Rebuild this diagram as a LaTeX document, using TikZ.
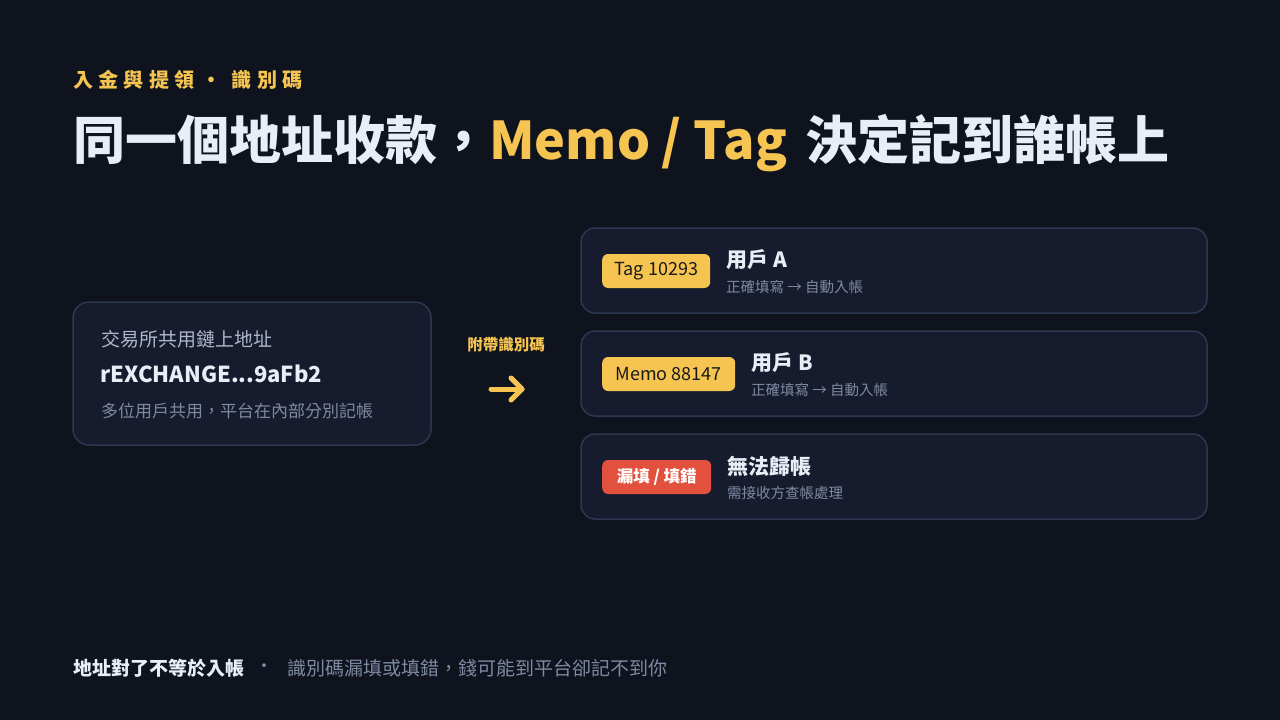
\documentclass[tikz,border=0pt]{standalone}
\usepackage{fontspec}
\usetikzlibrary{calc}
\setmainfont{Noto Sans CJK TC}
\newfontfamily\spaced[LetterSpace=27]{Noto Sans CJK TC}
\definecolor{bg}{HTML}{0F131E}
\definecolor{card}{HTML}{161C2D}
\definecolor{cardline}{HTML}{2D3750}
\definecolor{gold}{HTML}{F5C451}
\definecolor{ink}{HTML}{E9EDF6}
\definecolor{muted}{HTML}{AEB7CB}
\definecolor{dim}{HTML}{7E89A2}
\definecolor{alert}{HTML}{E2513D}
\definecolor{badgeink}{HTML}{1A1A1A}
\tikzset{
  cardbox/.style={draw=cardline,line width=1.5pt,fill=card,rounded corners=14pt},
  badge/.style={rounded corners=6pt,inner xsep=12pt,minimum height=34pt,font=\fontsize{18}{21}\selectfont,anchor=west},
  lbl/.style={anchor=west,inner sep=0pt},
}
\begin{document}
\begin{tikzpicture}[x=1pt,y=-1pt]
\fill[bg] (0,0) rectangle (1280,720);
\useasboundingbox (0,0) rectangle (1280,720);
\node[lbl,text=gold,font=\spaced\bfseries\fontsize{20}{24}\selectfont] (eyebrow) at (73,80) {入金與提領\hspace{7pt}·\hspace{10pt}識別碼};
\node[lbl,text=ink,font=\bfseries\fontsize{52}{60}\selectfont] (title) at (73,143) {同一個地址收款，\textcolor{gold}{Memo / Tag}\hspace{6pt} 決定記到誰帳上};
% left card
\draw[cardbox,rounded corners=16pt] (73,302) rectangle (431,445);
\node[lbl,text=muted,font=\fontsize{19}{22}\selectfont] (lt1) at (101,339) {交易所共用鏈上地址};
\node[lbl,text=ink,font=\bfseries\fontsize{22}{27}\selectfont] (lt2) at (100,374) {rEXCHANGE...9aFb2};
\node[lbl,text=dim,font=\fontsize{17}{20}\selectfont] (lt3) at (101,411) {多位用戶共用，平台在內部分別記帳};
% middle
\node[text=gold,inner sep=0pt,font=\bfseries\fontsize{15.5}{18}\selectfont] (via) at (506,345) {附帶識別碼};
\coordinate (arrA) at (491,389);
\coordinate (arrB) at (522,389);
\draw[gold,line width=5pt,line cap=round] (arrA) -- (arrB);
\draw[gold,line width=5pt,line cap=round,line join=round] ($(arrB)+(-11,-11)$) -- (arrB) -- ($(arrB)+(-11,11)$);
% right cards
\draw[cardbox] (581,228) rectangle (1207,313);
\draw[cardbox] (581,331) rectangle (1207,416);
\draw[cardbox] (581,434) rectangle (1207,519);
\node[badge,fill=gold,text=badgeink,minimum width=108pt] (b1) at (602,271) {Tag 10293};
\node[badge,fill=gold,text=badgeink,minimum width=133pt] (b2) at (602,374) {Memo 88147};
\node[badge,fill=alert,text=white,minimum width=109pt,font=\bfseries\fontsize{16.5}{20}\selectfont] (b3) at (602,477) {漏填 / 填錯};
\node[lbl,text=ink,font=\bfseries\fontsize{21}{24}\selectfont] (t1) at (726,260) {用戶 A};
\node[lbl,text=dim,font=\fontsize{14.5}{17}\selectfont] (s1) at (726,287) {正確填寫 → 自動入帳};
\node[lbl,text=ink,font=\bfseries\fontsize{21}{24}\selectfont] (t2) at (751,363) {用戶 B};
\node[lbl,text=dim,font=\fontsize{14.5}{17}\selectfont] (s2) at (751,390) {正確填寫 → 自動入帳};
\node[lbl,text=ink,font=\bfseries\fontsize{21}{24}\selectfont] (t3) at (727,466) {無法歸帳};
\node[lbl,text=dim,font=\fontsize{14.5}{17}\selectfont] (s3) at (727,493) {需接收方查帳處理};
% footer
\node[lbl,text=ink,font=\bfseries\fontsize{19}{22}\selectfont] (f1) at (73,668) {地址對了不等於入帳};
\node[text=dim,inner sep=0pt,font=\fontsize{18}{22}\selectfont] (fdot) at (264,668) {·};
\node[lbl,text=dim,font=\fontsize{19}{22}\selectfont] (f2) at (287,668) {識別碼漏填或填錯，錢可能到平台卻記不到你};
\end{tikzpicture}
\end{document}
